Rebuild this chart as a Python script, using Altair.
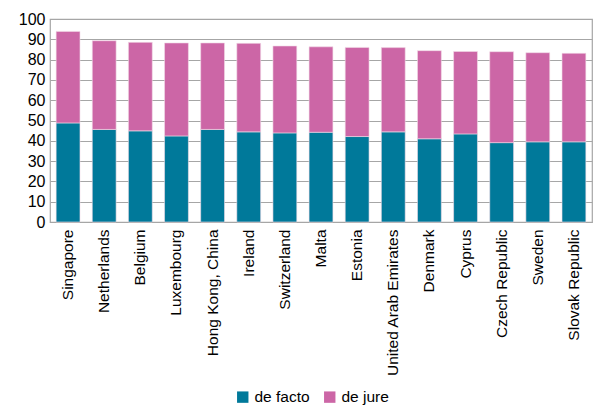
import altair as alt
import pandas as pd

countries = ["Singapore", "Netherlands", "Belgium", "Luxembourg", "Hong Kong, China",
             "Ireland", "Switzerland", "Malta", "Estonia", "United Arab Emirates",
             "Denmark", "Cyprus", "Czech Republic", "Sweden", "Slovak Republic"]
total = [93.9, 89.3, 88.5, 88.2, 88.2, 88.0, 86.7, 86.3, 86.0, 85.9, 84.4, 84.0, 83.9, 83.4, 83.1]
de_facto = [48.8, 45.6, 44.9, 42.4, 45.6, 44.4, 43.9, 44.2, 42.1, 44.4, 41.0, 43.4, 39.1, 39.5, 39.5]
de_jure = [round(t - f, 1) for t, f in zip(total, de_facto)]

series = ["de facto", "de jure"]
colors = ["#00799A", "#CC66A6"]

rows = []
for i, c in enumerate(countries):
    rows.append({"country": c, "series": "de facto", "value": de_facto[i], "order": 0})
    rows.append({"country": c, "series": "de jure", "value": de_jure[i], "order": 1})
df = pd.DataFrame(rows)

font = "Liberation Sans"

chart = alt.Chart(df).mark_bar(stroke="#F2DCE8", strokeWidth=0.6).encode(
    x=alt.X("country:N", sort=countries, title=None,
            scale=alt.Scale(paddingInner=0.34, paddingOuter=0.17),
            axis=alt.Axis(labelAngle=-90, labelAlign="right", labelBaseline="middle",
                          labelFontSize=15.5, labelFont=font, labelColor="#000000",
                          ticks=False, domain=False, labelPadding=7, grid=False)),
    y=alt.Y("value:Q", title=None, stack="zero",
            scale=alt.Scale(domain=[0, 100], nice=False),
            axis=alt.Axis(values=list(range(0, 101, 10)), labelFontSize=16, labelFont=font,
                          labelColor="#000000", ticks=False, domain=False, labelPadding=5,
                          gridColor="#A6A6A6", gridWidth=1)),
    color=alt.Color("series:N", scale=alt.Scale(domain=series, range=colors),
                    legend=alt.Legend(title=None, orient="none", direction="horizontal",
                                      legendX=185, legendY=370, symbolType="square",
                                      symbolSize=130, symbolStrokeWidth=0,
                                      labelFontSize=15.5, labelFont=font, labelColor="#000000",
                                      columnPadding=12, labelOffset=4)),
    order=alt.Order("order:Q"),
).properties(
    width=542, height=203,
    autosize=alt.AutoSizeParams(type="none"),
    padding={"left": 42, "top": 11, "right": 3, "bottom": 184},
).configure_view(stroke="#A6A6A6", strokeWidth=1.2)

chart.save("out.html", embed_options={"renderer": "svg", "actions": False})
